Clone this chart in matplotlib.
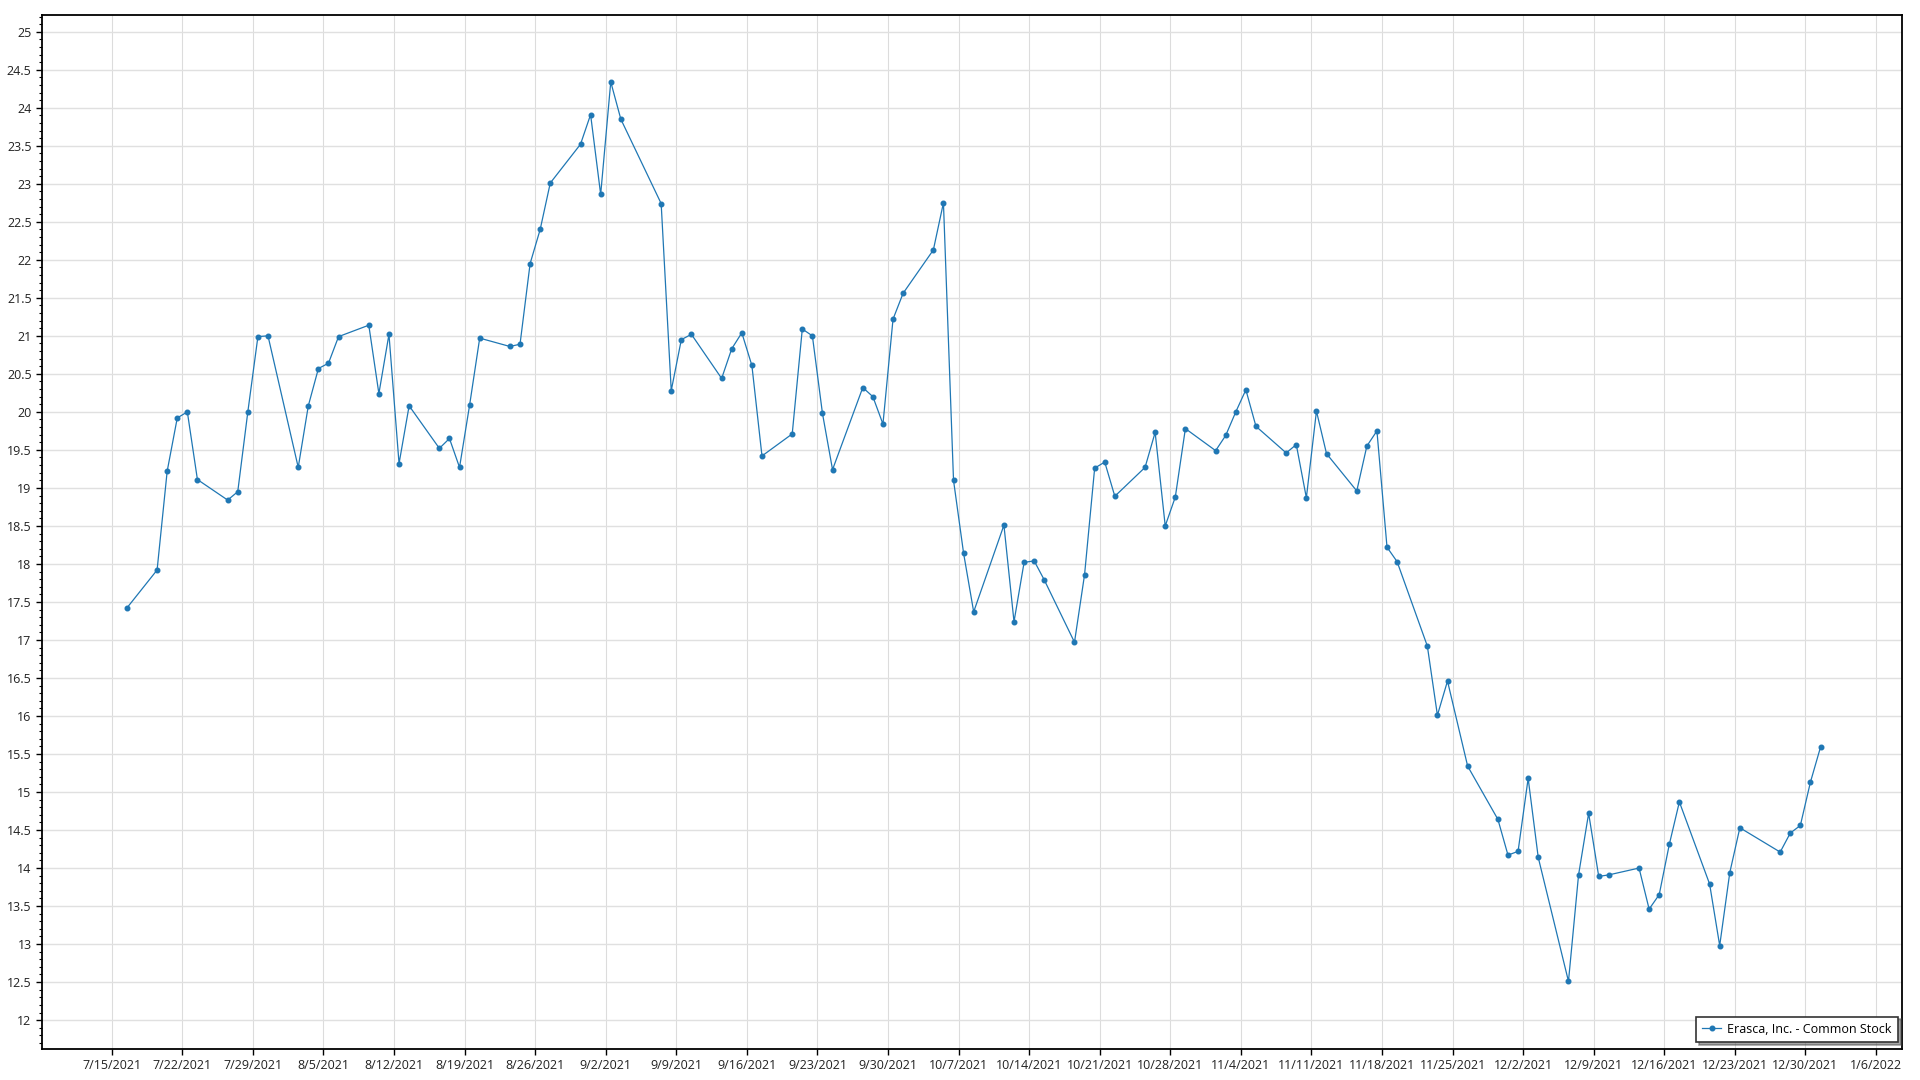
import pandas as pd
import matplotlib.pyplot as plt
import matplotlib.dates as mdates
from matplotlib.ticker import MultipleLocator, FuncFormatter

plt.rcParams['font.family'] = ['Open Sans', 'DejaVu Sans']

# closing prices, Erasca (ERAS) after the IPO
dates = ['2021-07-16', '2021-07-19', '2021-07-20', '2021-07-21', '2021-07-22', '2021-07-23',
         '2021-07-26', '2021-07-27', '2021-07-28', '2021-07-29', '2021-07-30',
         '2021-08-02', '2021-08-03', '2021-08-04', '2021-08-05', '2021-08-06',
         '2021-08-09', '2021-08-10', '2021-08-11', '2021-08-12', '2021-08-13',
         '2021-08-16', '2021-08-17', '2021-08-18', '2021-08-19', '2021-08-20',
         '2021-08-23', '2021-08-24', '2021-08-25', '2021-08-26', '2021-08-27',
         '2021-08-30', '2021-08-31', '2021-09-01', '2021-09-02', '2021-09-03',
         '2021-09-07', '2021-09-08', '2021-09-09', '2021-09-10',
         '2021-09-13', '2021-09-14', '2021-09-15', '2021-09-16', '2021-09-17',
         '2021-09-20', '2021-09-21', '2021-09-22', '2021-09-23', '2021-09-24',
         '2021-09-27', '2021-09-28', '2021-09-29', '2021-09-30', '2021-10-01',
         '2021-10-04', '2021-10-05', '2021-10-06', '2021-10-07', '2021-10-08',
         '2021-10-11', '2021-10-12', '2021-10-13', '2021-10-14', '2021-10-15',
         '2021-10-18', '2021-10-19', '2021-10-20', '2021-10-21', '2021-10-22',
         '2021-10-25', '2021-10-26', '2021-10-27', '2021-10-28', '2021-10-29',
         '2021-11-01', '2021-11-02', '2021-11-03', '2021-11-04', '2021-11-05',
         '2021-11-08', '2021-11-09', '2021-11-10', '2021-11-11', '2021-11-12',
         '2021-11-15', '2021-11-16', '2021-11-17', '2021-11-18', '2021-11-19',
         '2021-11-22', '2021-11-23', '2021-11-24', '2021-11-26',
         '2021-11-29', '2021-11-30', '2021-12-01', '2021-12-02', '2021-12-03',
         '2021-12-06', '2021-12-07', '2021-12-08', '2021-12-09', '2021-12-10',
         '2021-12-13', '2021-12-14', '2021-12-15', '2021-12-16', '2021-12-17',
         '2021-12-20', '2021-12-21', '2021-12-22', '2021-12-23',
         '2021-12-27', '2021-12-28', '2021-12-29', '2021-12-30', '2021-12-31']

prices = [17.42, 17.92, 19.22, 19.92, 20.00, 19.11,
          18.84, 18.95, 20.00, 20.99, 21.00,
          19.27, 20.08, 20.57, 20.64, 20.99,
          21.14, 20.24, 21.02, 19.32, 20.08,
          19.52, 19.65, 19.27, 20.09, 20.97,
          20.86, 20.89, 21.95, 22.40, 23.01,
          23.52, 23.91, 22.86, 24.34, 23.85,
          22.74, 20.28, 20.95, 21.02,
          20.44, 20.83, 21.04, 20.61, 19.42,
          19.71, 21.09, 21.00, 19.98, 19.24,
          20.32, 20.20, 19.84, 21.22, 21.56,
          22.13, 22.75, 19.10, 18.14, 17.37,
          18.51, 17.24, 18.02, 18.04, 17.79,
          16.97, 17.86, 19.26, 19.34, 18.89,
          19.27, 19.73, 18.50, 18.88, 19.78,
          19.49, 19.69, 20.00, 20.29, 19.81,
          19.46, 19.57, 18.87, 20.01, 19.45,
          18.96, 19.55, 19.75, 18.22, 18.03,
          16.92, 16.01, 16.46, 15.34,
          14.64, 14.17, 14.22, 15.18, 14.14,
          12.51, 13.91, 14.72, 13.89, 13.91,
          14.00, 13.46, 13.65, 14.31, 14.87,
          13.79, 12.98, 13.94, 14.53,
          14.21, 14.46, 14.56, 15.13, 15.59]

series_name = 'Erasca, Inc. - Common Stock'

x = pd.to_datetime(dates) + pd.Timedelta(hours=12)

fig = plt.figure(figsize=(19.2, 10.8), dpi=100)
ax = fig.add_axes([42 / 1920, 1 - 1049 / 1080, 1860 / 1920, 1034 / 1080])

ax.plot(x, prices, color='#1f77b4', lw=0.9, marker='o', ms=3.3,
        label=series_name, zorder=3)

ax.set_xlim(pd.Timestamp('2021-07-08 02:00'), pd.Timestamp('2022-01-08 14:00'))
ax.set_ylim(11.62, 25.22)

ax.xaxis.set_major_locator(mdates.WeekdayLocator(byweekday=mdates.TH))
ax.xaxis.set_major_formatter(FuncFormatter(
    lambda v, p: '{d.month}/{d.day}/{d.year}'.format(d=mdates.num2date(v))))
ax.yaxis.set_major_locator(MultipleLocator(0.5))
ax.yaxis.set_minor_locator(MultipleLocator(0.1))
ax.yaxis.set_major_formatter(FuncFormatter(lambda v, p: f'{v:g}'))

ax.grid(True, which='major', axis='y', color='#e0e0e0', lw=1.0, zorder=0)
ax.grid(True, which='major', axis='x', color='#dcdcdc', lw=0.8, zorder=0)
ax.set_axisbelow(True)
for s in ax.spines.values():
    s.set_color('black')
    s.set_linewidth(1.3)

ax.tick_params(axis='both', which='major', labelsize=9, colors='black',
               labelcolor='#222222', length=4.5, width=1.0, pad=3)
ax.tick_params(axis='y', which='minor', length=2.5, width=0.8, colors='black')

leg = ax.legend(loc='lower right', bbox_to_anchor=(1 - 4 / 1860, 7 / 1034),
                borderaxespad=0, fontsize=9, frameon=True, fancybox=False,
                shadow=True, edgecolor='#333333', handlelength=1.5,
                handletextpad=0.5, borderpad=0.5)
leg.get_frame().set_linewidth(1.2)

fig.savefig('out.png', dpi=100, facecolor='white')
